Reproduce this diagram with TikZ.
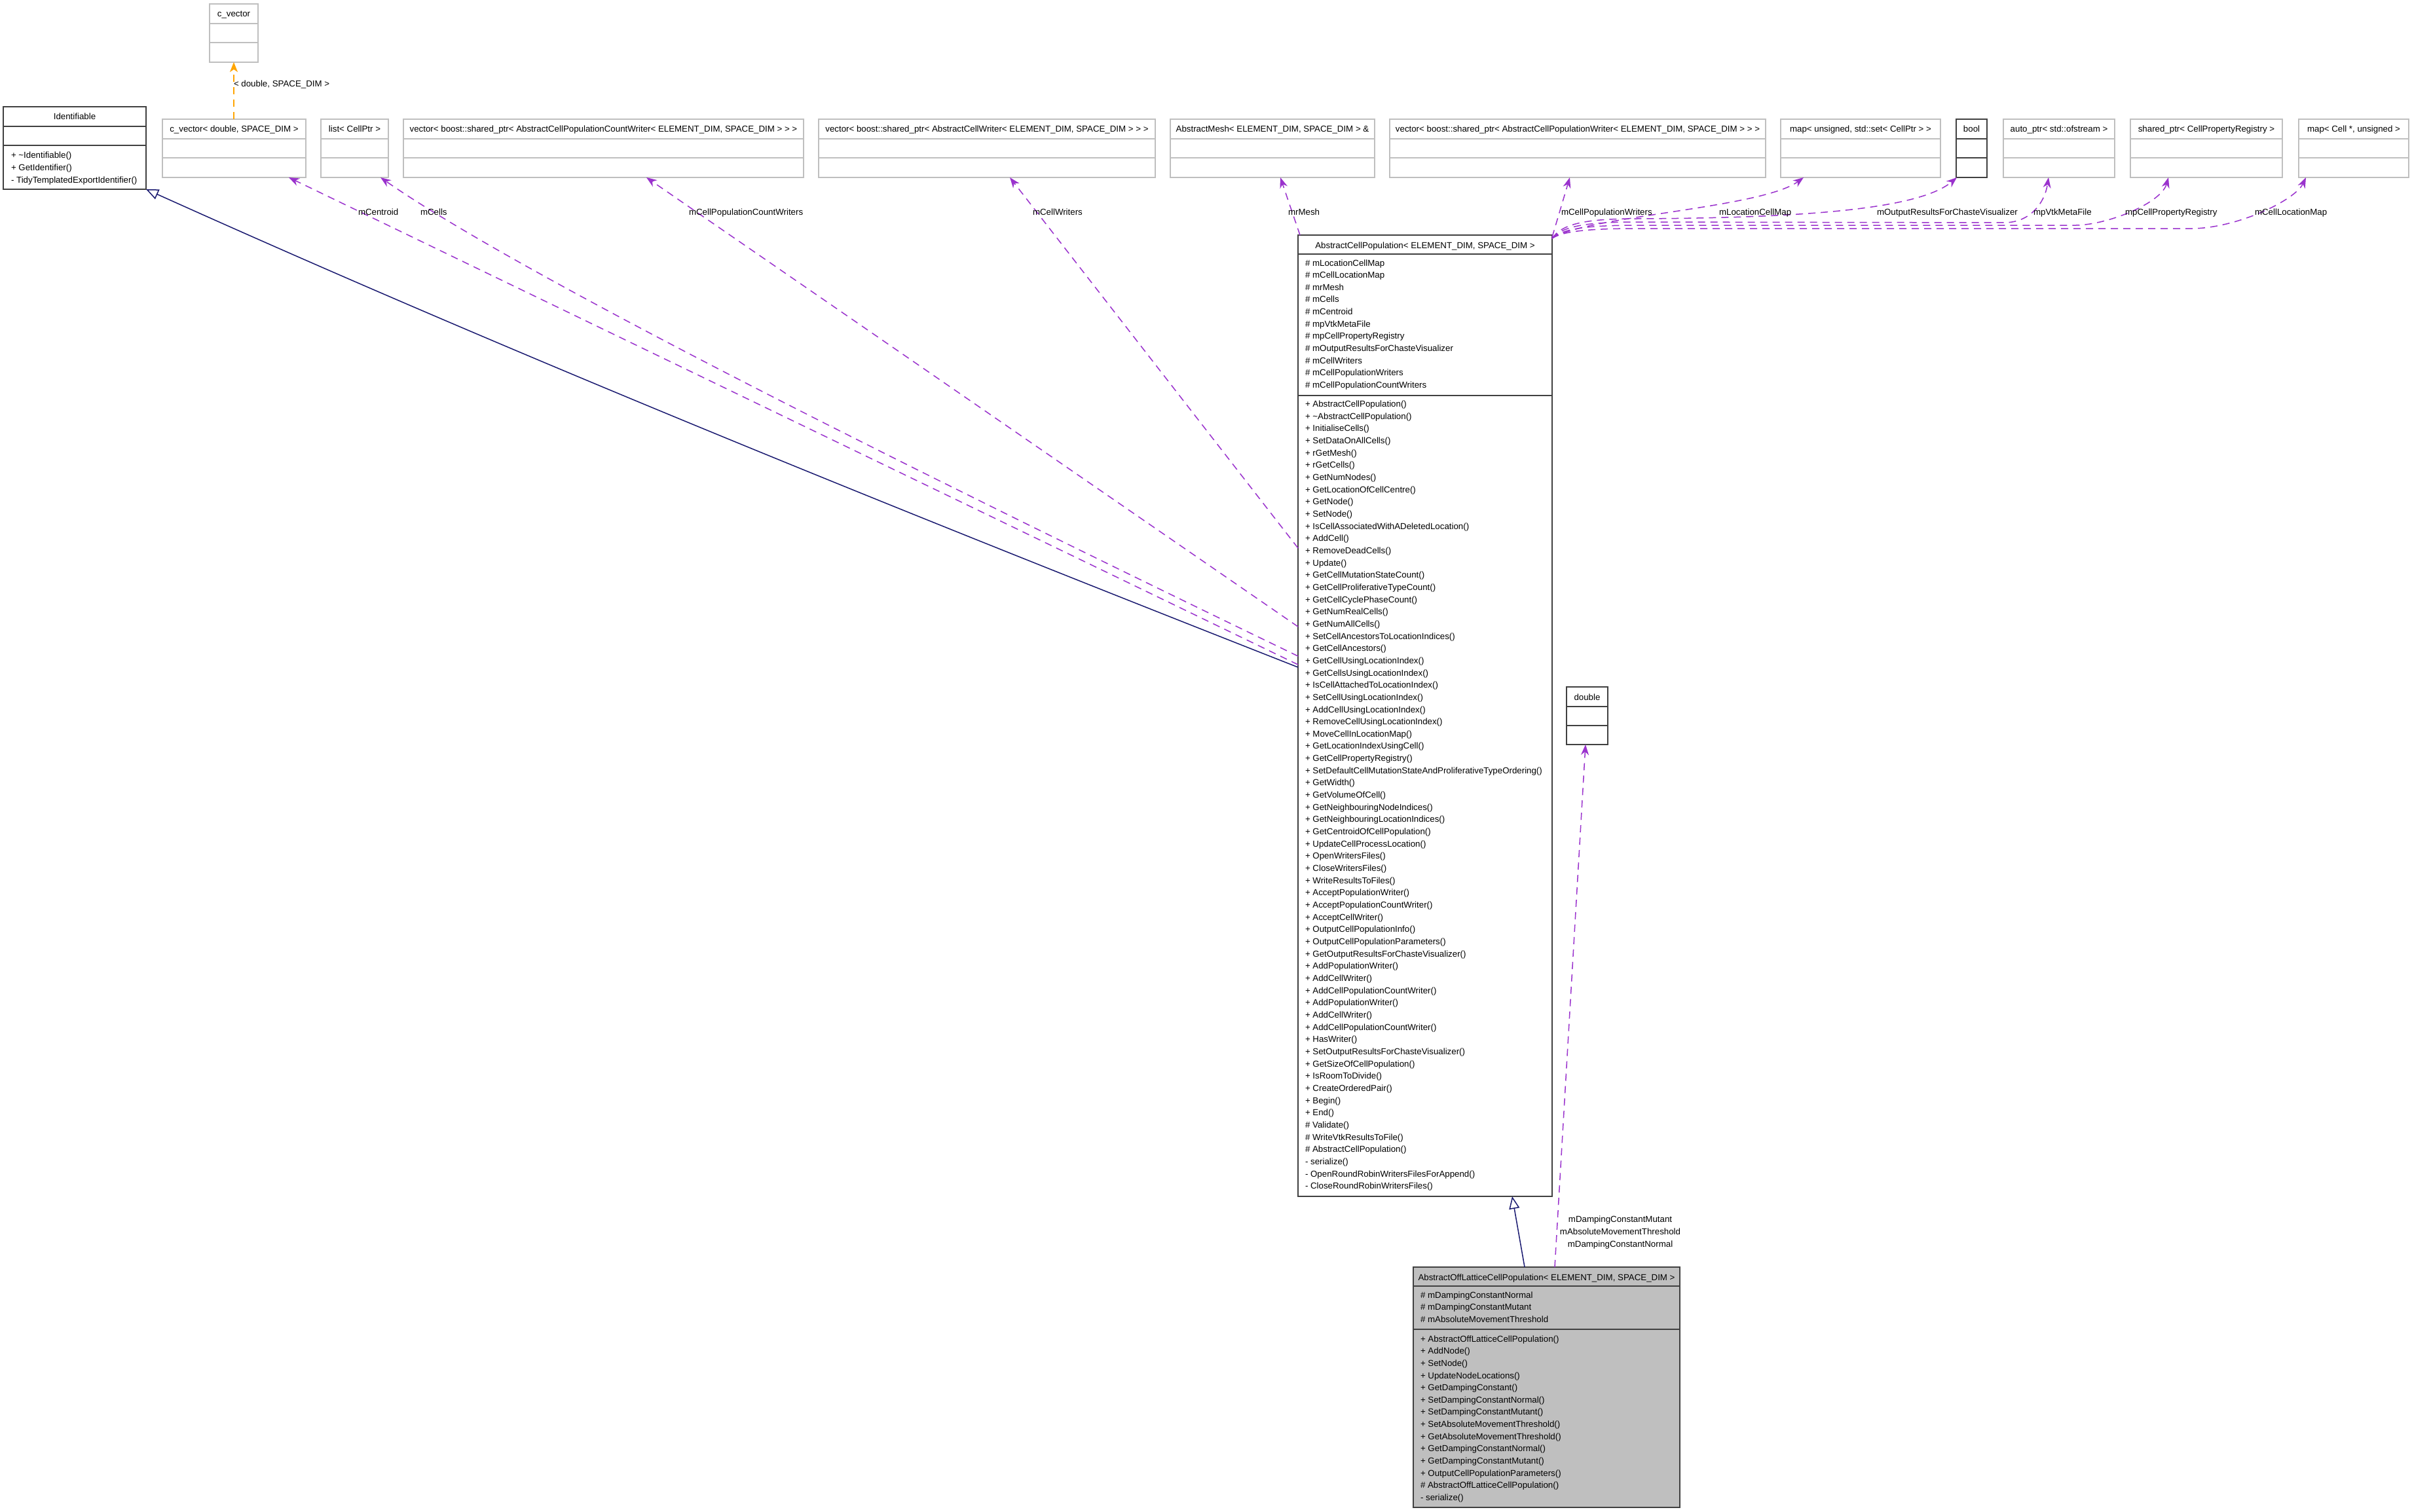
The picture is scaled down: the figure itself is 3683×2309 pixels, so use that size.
\documentclass[tikz,border=0pt]{standalone}
\usepackage{fontspec}
\setmainfont{Liberation Sans}
\usetikzlibrary{arrows.meta,calc}
\definecolor{usecol}{HTML}{9A32CD}
\definecolor{inhcol}{HTML}{191970}
\definecolor{tplcol}{HTML}{FFA500}
\definecolor{boxgray}{HTML}{BFBFBF}
\definecolor{boxdark}{HTML}{404040}
\tikzset{
  gbox/.style={draw=boxgray, line width=1.8pt, rectangle, inner sep=0pt, outer sep=0pt, fill=white},
  gbox line/.style={draw=boxgray, line width=1.8pt},
  kbox/.style={draw=boxdark, line width=2.2pt, rectangle, inner sep=0pt, outer sep=0pt, fill=white},
  kbox line/.style={draw=boxdark, line width=2.2pt},
  filledbox/.style={kbox, fill=boxgray},
  filledbox line/.style={kbox line},
  txt/.style={font=\fontsize{13.3}{16}\selectfont, inner sep=0pt, outer sep=0pt},
  usage/.style={draw=usecol, line width=1.5pt, dash pattern=on 11pt off 8pt,
    -{Stealth[length=16pt,width=12pt,inset=5pt]}},
  inherit/.style={draw=inhcol, line width=1.5pt, -{Triangle[open,length=19pt,width=16pt,fill=white]}},
  tmpl/.style={draw=tplcol, line width=1.5pt, dash pattern=on 11pt off 8pt,
    -{Stealth[length=15pt,width=12pt,inset=4pt]}},
}
\newcommand\umlbox[8]{%
  \node[#2, anchor=north west, minimum width={#4-#3}, minimum height={#6-#5}] (#1) at (#3,-#5) {};
  \draw[#2 line] (#3,-#7) -- (#4,-#7) (#3,-#8) -- (#4,-#8);
}
\newcommand\umltitle[3]{\node[txt, anchor=base] (#1) at ($(#2.north)+(0,-20)$) {#3};}
\newcommand\umllines[4]{%
  \foreach \lbl [count=\i] in {#4} {
    \node[txt, anchor=base west] (#1\i) at (#2, {-(#3+(\i-1)*18.66)}) {\lbl};
  }
}
\begin{document}
\begin{tikzpicture}[x=1pt,y=1pt]
\useasboundingbox (0,0) rectangle (3683,-2309);
\fill[white] (0,0) rectangle (3683,-2309);

% ---------- boxes ----------
\umlbox{cvec}{gbox}{320}{394}{6}{95}{36}{65}
\umlbox{iden}{kbox}{5}{223}{163}{289}{193}{222}
\umlbox{cvd}{gbox}{248}{467}{182}{271}{212}{241}
\umlbox{lst}{gbox}{490}{593}{182}{271}{212}{241}
\umlbox{cw}{gbox}{616}{1227}{182}{271}{212}{241}
\umlbox{celw}{gbox}{1250}{1764}{182}{271}{212}{241}
\umlbox{mesh}{gbox}{1787}{2099}{182}{271}{212}{241}
\umlbox{pw}{gbox}{2122}{2696}{182}{271}{212}{241}
\umlbox{lcm}{gbox}{2719}{2963}{182}{271}{212}{241}
\umlbox{bool}{kbox}{2987}{3034}{182}{271}{212}{241}
\umlbox{autop}{gbox}{3059}{3229}{182}{271}{212}{241}
\umlbox{sp}{gbox}{3253}{3485}{182}{271}{212}{241}
\umlbox{mcl}{gbox}{3510}{3678}{182}{271}{212}{241}
\umlbox{acp}{kbox}{1982}{2370}{359}{1827}{388}{604}
\umlbox{dbl}{kbox}{2392}{2455}{1049}{1137}{1079}{1108}
\umlbox{aol}{filledbox}{2158}{2565}{1935}{2302}{1964}{2030}

% ---------- titles ----------
\umltitle{cvecT}{cvec}{c\_vector}
\umltitle{idenT}{iden}{Identifiable}
\umltitle{cvdT}{cvd}{c\_vector< double, SPACE\_DIM >}
\umltitle{lstT}{lst}{list< CellPtr >}
\umltitle{cwT}{cw}{vector< boost::shared\_ptr< AbstractCellPopulationCountWriter< ELEMENT\_DIM, SPACE\_DIM > > >}
\umltitle{celwT}{celw}{vector< boost::shared\_ptr< AbstractCellWriter< ELEMENT\_DIM, SPACE\_DIM > > >}
\umltitle{meshT}{mesh}{AbstractMesh< ELEMENT\_DIM, SPACE\_DIM > \&}
\umltitle{pwT}{pw}{vector< boost::shared\_ptr< AbstractCellPopulationWriter< ELEMENT\_DIM, SPACE\_DIM > > >}
\umltitle{lcmT}{lcm}{map< unsigned, std::set< CellPtr > >}
\umltitle{boolT}{bool}{bool}
\umltitle{autopT}{autop}{auto\_ptr< std::ofstream >}
\umltitle{spT}{sp}{shared\_ptr< CellPropertyRegistry >}
\umltitle{mclT}{mcl}{map< Cell *, unsigned >}
\umltitle{acpT}{acp}{AbstractCellPopulation< ELEMENT\_DIM, SPACE\_DIM >}
\umltitle{dblT}{dbl}{double}
\umltitle{aolT}{aol}{AbstractOffLatticeCellPopulation< ELEMENT\_DIM, SPACE\_DIM >}

% ---------- members ----------
\umllines{idm}{17}{242}{+ \textasciitilde Identifiable(),+ GetIdentifier(),- TidyTemplatedExportIdentifier()}
\umllines{acpa}{1993}{406}{\# mLocationCellMap,\# mCellLocationMap,\# mrMesh,\# mCells,\# mCentroid,\# mpVtkMetaFile,\# mpCellPropertyRegistry,\# mOutputResultsForChasteVisualizer,\# mCellWriters,\# mCellPopulationWriters,\# mCellPopulationCountWriters}
\umllines{acpm}{1993}{621.5}{+ AbstractCellPopulation(),+ \textasciitilde AbstractCellPopulation(),+ InitialiseCells(),+ SetDataOnAllCells(),+ rGetMesh(),+ rGetCells(),+ GetNumNodes(),+ GetLocationOfCellCentre(),+ GetNode(),+ SetNode(),+ IsCellAssociatedWithADeletedLocation(),+ AddCell(),+ RemoveDeadCells(),+ Update(),+ GetCellMutationStateCount(),+ GetCellProliferativeTypeCount(),+ GetCellCyclePhaseCount(),+ GetNumRealCells(),+ GetNumAllCells(),+ SetCellAncestorsToLocationIndices(),+ GetCellAncestors(),+ GetCellUsingLocationIndex(),+ GetCellsUsingLocationIndex(),+ IsCellAttachedToLocationIndex(),+ SetCellUsingLocationIndex(),+ AddCellUsingLocationIndex(),+ RemoveCellUsingLocationIndex(),+ MoveCellInLocationMap(),+ GetLocationIndexUsingCell(),+ GetCellPropertyRegistry(),+ SetDefaultCellMutationStateAndProliferativeTypeOrdering(),+ GetWidth(),+ GetVolumeOfCell(),+ GetNeighbouringNodeIndices(),+ GetNeighbouringLocationIndices(),+ GetCentroidOfCellPopulation(),+ UpdateCellProcessLocation(),+ OpenWritersFiles(),+ CloseWritersFiles(),+ WriteResultsToFiles(),+ AcceptPopulationWriter(),+ AcceptPopulationCountWriter(),+ AcceptCellWriter(),+ OutputCellPopulationInfo(),+ OutputCellPopulationParameters(),+ GetOutputResultsForChasteVisualizer(),+ AddPopulationWriter(),+ AddCellWriter(),+ AddCellPopulationCountWriter(),+ AddPopulationWriter(),+ AddCellWriter(),+ AddCellPopulationCountWriter(),+ HasWriter(),+ SetOutputResultsForChasteVisualizer(),+ GetSizeOfCellPopulation(),+ IsRoomToDivide(),+ CreateOrderedPair(),+ Begin(),+ End(),\# Validate(),\# WriteVtkResultsToFile(),\# AbstractCellPopulation(),- serialize(),- OpenRoundRobinWritersFilesForAppend(),- CloseRoundRobinWritersFiles()}
\umllines{aola}{2169}{1982}{\# mDampingConstantNormal,\# mDampingConstantMutant,\# mAbsoluteMovementThreshold}
\umllines{aolm}{2169}{2049}{+ AbstractOffLatticeCellPopulation(),+ AddNode(),+ SetNode(),+ UpdateNodeLocations(),+ GetDampingConstant(),+ SetDampingConstantNormal(),+ SetDampingConstantMutant(),+ SetAbsoluteMovementThreshold(),+ GetAbsoluteMovementThreshold(),+ GetDampingConstantNormal(),+ GetDampingConstantMutant(),+ OutputCellPopulationParameters(),\# AbstractOffLatticeCellPopulation(),- serialize()}

% ---------- connectors ----------
\draw[inherit] ($(acp.north west)+(0,-660)$) .. controls (1400,-790) and (800,-549) .. (iden.south east);
\draw[inherit] ($(aol.north west)+(170,0)$) -- ($(acp.south west)+(327,0)$);
\draw[tmpl] ($(cvd.north west)+(109,0)$) -- ($(cvec.south west)+(37,0)$);

\draw[usage] ($(acp.north west)+(0,-656)$) -- ($(cvd.south west)+(193,0)$);
\draw[usage] ($(acp.north west)+(0,-643)$) .. controls (1400,-721) and (800,-423) .. ($(lst.south west)+(91,0)$);
\draw[usage] ($(acp.north west)+(0,-598)$) -- ($(cw.south west)+(371,0)$);
\draw[usage] ($(acp.north west)+(0,-478)$) -- ($(celw.south west)+(292,0)$);
\draw[usage] ($(acp.north west)+(3,0)$) -- ($(mesh.south west)+(168,0)$);
\draw[usage] ($(acp.north east)+(0,-3)$) -- ($(pw.south west)+(275,0)$);
\draw[usage] ($(acp.north east)+(0,-5)$) .. controls (2420,-330) and (2690,-318) .. ($(lcm.south west)+(35,0)$);
\draw[usage] ($(acp.north east)+(0,-5)$) .. controls (2385,-342) and (2420,-334) .. (2500,-334) .. controls (2750,-333) and (2930,-320) .. ($(bool.south west)+(1,0)$);
\draw[usage] ($(acp.north east)+(0,-5)$) .. controls (2385,-346) and (2420,-339) .. (2500,-339) -- (3060,-340) .. controls (3100,-340) and (3122,-310) .. ($(autop.south west)+(69,0)$);
\draw[usage] ($(acp.north east)+(0,-5)$) .. controls (2385,-350) and (2420,-344) .. (2500,-344) -- (3170,-344) .. controls (3220,-343) and (3300,-310) .. ($(sp.south west)+(58,0)$);
\draw[usage] ($(acp.north east)+(0,-5)$) .. controls (2385,-354) and (2420,-349) .. (2500,-349) -- (3350,-349) .. controls (3420,-347) and (3505,-305) .. ($(mcl.south west)+(11,0)$);
\draw[usage] ($(aol.north west)+(216,0)$) -- ($(dbl.south west)+(29,0)$);

% ---------- labels ----------
\node[txt, anchor=base west] (lbTpl) at (357,-133) {< double, SPACE\_DIM >};
\node[txt, anchor=base west] (lbCentroid) at (547,-328) {mCentroid};
\node[txt, anchor=base west] (lbCells) at (642,-328) {mCells};
\node[txt, anchor=base west] (lbCountW) at (1052,-328) {mCellPopulationCountWriters};
\node[txt, anchor=base west] (lbCellW) at (1577,-328) {mCellWriters};
\node[txt, anchor=base west] (lbMesh) at (1967,-328) {mrMesh};
\node[txt, anchor=base west] (lbPopW) at (2384,-328) {mCellPopulationWriters};
\node[txt, anchor=base west] (lbLCM) at (2625,-328) {mLocationCellMap};
\node[txt, anchor=base west] (lbOut) at (2866,-328) {mOutputResultsForChasteVisualizer};
\node[txt, anchor=base west] (lbVtk) at (3105,-328) {mpVtkMetaFile};
\node[txt, anchor=base west] (lbReg) at (3245,-328) {mpCellPropertyRegistry};
\node[txt, anchor=base west] (lbCLM) at (3443,-328) {mCellLocationMap};
\node[txt, anchor=base] (lbDM) at (2474,-1866) {mDampingConstantMutant};
\node[txt, anchor=base] (lbAM) at (2474,-1885) {mAbsoluteMovementThreshold};
\node[txt, anchor=base] (lbDN) at (2474,-1904) {mDampingConstantNormal};
\end{tikzpicture}
\end{document}
